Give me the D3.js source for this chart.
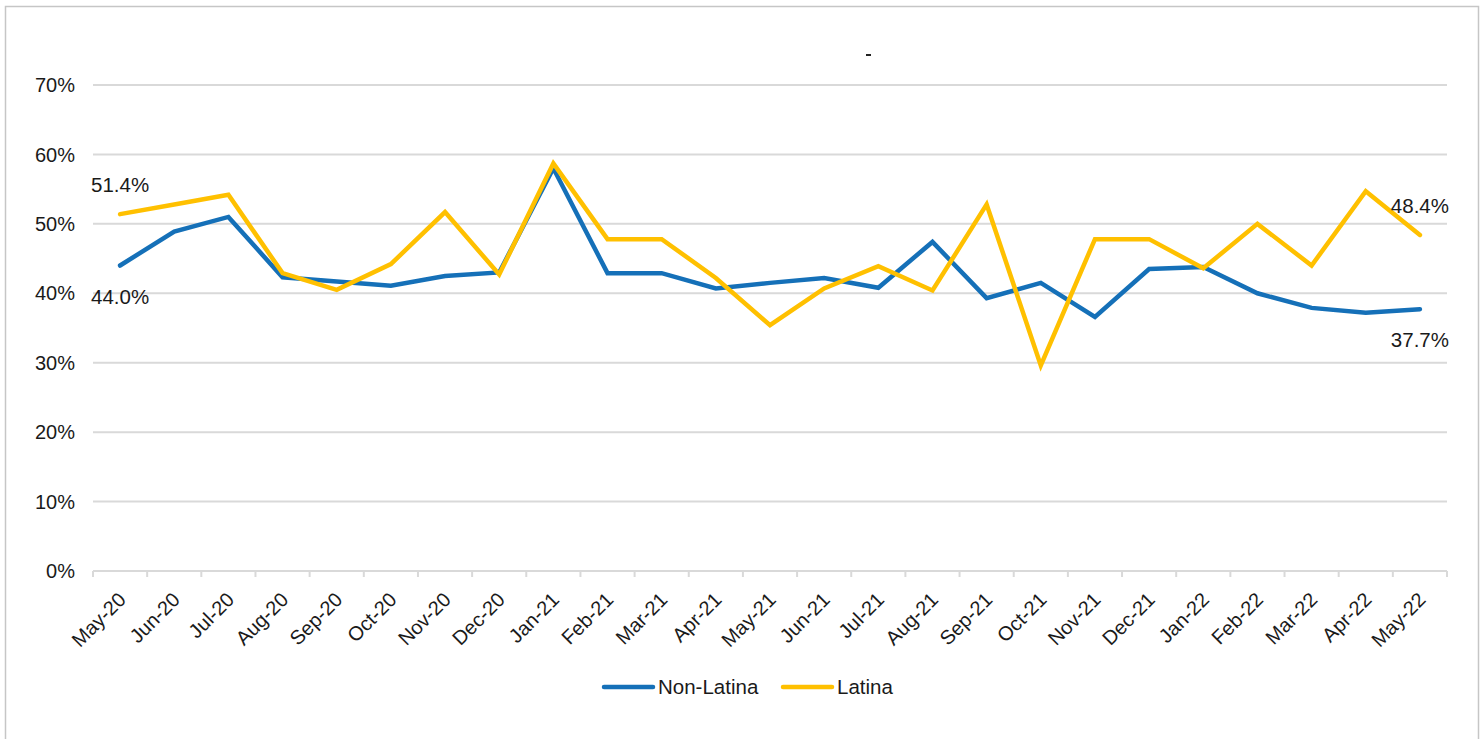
<!DOCTYPE html>
<html>
<head>
<meta charset="utf-8">
<script src="https://cdn.jsdelivr.net/npm/d3@7"></script>
<style>
  html, body { margin: 0; padding: 0; background: #fff; }
  svg { display: block; font-family: "Liberation Sans", Arial, sans-serif; }
</style>
</head>
<body>
<svg id="chart" width="1484" height="739"></svg>
<script>
// Monthly share, May 2020 – May 2022
const months = ["May-20","Jun-20","Jul-20","Aug-20","Sep-20","Oct-20","Nov-20","Dec-20",
  "Jan-21","Feb-21","Mar-21","Apr-21","May-21","Jun-21","Jul-21","Aug-21","Sep-21","Oct-21",
  "Nov-21","Dec-21","Jan-22","Feb-22","Mar-22","Apr-22","May-22"];

const nonLatina = [44.0, 48.9, 51.0, 42.3, 41.7, 41.1, 42.5, 43.0, 58.0, 42.9, 42.9, 40.7,
  41.5, 42.2, 40.8, 47.4, 39.3, 41.5, 36.6, 43.5, 43.8, 40.0, 37.9, 37.2, 37.7];

const latina = [51.4, 52.8, 54.2, 42.9, 40.5, 44.2, 51.7, 42.7, 58.7, 47.8, 47.8, 42.2,
  35.4, 40.7, 43.9, 40.4, 52.8, 29.6, 47.8, 47.8, 43.6, 50.0, 44.0, 54.7, 48.4];

const yTicks = [0, 10, 20, 30, 40, 50, 60, 70];

const seriesNames = ["Non-Latina", "Latina"];
const seriesColors = ["#1570b8", "#ffc000"];

const svg = d3.select("#chart");
const plot = { left: 93, right: 1447, top: 85, bottom: 571 };

// outer frame
svg.append("rect")
  .attr("x", 5.5).attr("y", 6.5)
  .attr("width", 1473).attr("height", 760)
  .attr("fill", "none").attr("stroke", "#c6c6c6").attr("stroke-width", 1.5);

// small title remnant
svg.append("rect").attr("x", 866).attr("y", 54).attr("width", 5).attr("height", 2).attr("fill", "#222");

const x = d3.scaleBand().domain(months).range([plot.left, plot.right]).padding(0);
const y = d3.scaleLinear().domain([0, 70]).range([plot.bottom, plot.top]);
const cx = m => x(m) + x.bandwidth() / 2;

// gridlines
svg.append("g").selectAll("line").data(yTicks).join("line")
  .attr("x1", plot.left).attr("x2", plot.right)
  .attr("y1", d => y(d)).attr("y2", d => y(d))
  .attr("stroke", "#d9d9d9").attr("stroke-width", 2);

// y labels
svg.append("g").selectAll("text").data(yTicks).join("text")
  .attr("x", 75).attr("y", d => y(d)).attr("dy", "0.36em")
  .attr("text-anchor", "end").attr("font-size", 20).attr("fill", "#1a1a1a")
  .text(d => d + "%");

// x axis ticks at category boundaries
const bounds = months.map(m => x(m)).concat([plot.right]);
svg.append("g").selectAll("line").data(bounds).join("line")
  .attr("x1", d => d).attr("x2", d => d)
  .attr("y1", plot.bottom).attr("y2", plot.bottom + 6)
  .attr("stroke", "#d9d9d9").attr("stroke-width", 2);

// x labels, rotated
svg.append("g").selectAll("text").data(months).join("text")
  .attr("transform", m => `translate(${cx(m) + 7},${plot.bottom + 30}) rotate(-45)`)
  .attr("text-anchor", "end").attr("font-size", 20).attr("fill", "#1a1a1a")
  .text(m => m);

// lines
const line = d3.line().x((d, i) => cx(months[i])).y(d => y(d));
[nonLatina, latina].forEach((vals, k) => {
  svg.append("path").datum(vals)
    .attr("d", line)
    .attr("fill", "none")
    .attr("stroke", seriesColors[k])
    .attr("stroke-width", 4.5)
    .attr("stroke-linejoin", "miter")
    .attr("stroke-linecap", "round");
});

// end-point value labels
const fmt = v => v.toFixed(1) + "%";
const lastI = months.length - 1;
const endLabels = [
  { i: 0, v: latina[0], pos: "above" },
  { i: 0, v: nonLatina[0], pos: "below" },
  { i: lastI, v: latina[lastI], pos: "above" },
  { i: lastI, v: nonLatina[lastI], pos: "below" }
];
svg.append("g").selectAll("text").data(endLabels).join("text")
  .attr("x", d => cx(months[d.i]))
  .attr("y", d => y(d.v) + (d.pos === "above" ? -22 : 38))
  .attr("text-anchor", "middle").attr("font-size", 20.5).attr("fill", "#1a1a1a")
  .text(d => fmt(d.v));

// legend
const legend = svg.append("g");
const legendItems = [{ x: 604 }, { x: 783 }];
seriesNames.forEach((name, k) => {
  const lx = legendItems[k].x, ly = 687;
  legend.append("line")
    .attr("x1", lx).attr("x2", lx + 49).attr("y1", ly).attr("y2", ly)
    .attr("stroke", seriesColors[k]).attr("stroke-width", 4.5).attr("stroke-linecap", "round");
  legend.append("text")
    .attr("x", lx + 54).attr("y", ly).attr("dy", "0.36em")
    .attr("font-size", 20.5).attr("fill", "#1a1a1a")
    .text(name);
});
</script>
</body>
</html>
